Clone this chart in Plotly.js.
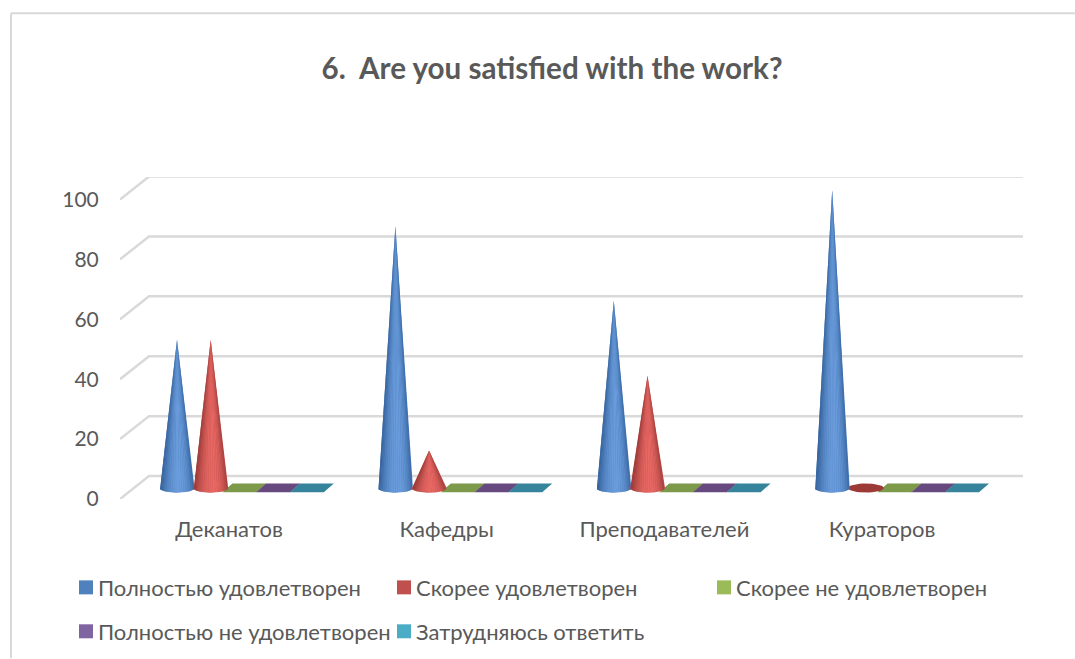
<!DOCTYPE html>
<html><head><meta charset="utf-8">
<script src="https://cdn.plot.ly/plotly-3.0.1.min.js"></script>
<style>html,body{margin:0;padding:0;background:#fff}</style></head>
<body><div id="chart" style="width:1075px;height:659px"></div>
<script>
const categories = ["Деканатов","Кафедры","Преподавателей","Кураторов"];
const seriesNames = ["Полностью удовлетворен","Скорее удовлетворен","Скорее не удовлетворен","Полностью не удовлетворен","Затрудняюсь ответить"];
const fullySatisfied = [50,88,63,100];
const ratherSatisfied = [50,13,38,0.3];
const ratherNot = [0,0,0,0];
const fullyNot = [0,0,0,0];
const hardToSay = [0,0,0,0];
const tickValues = [0,20,40,60,80,100];
const legendColors = ["#4F81BD","#C0504D","#9BBB59","#8064A2","#4BACC6"];
const flatColors = ["#3d6ea8","#9c3a38","#7D9A4A","#664A7F","#36849B"];
const coneMid = ["#4a7cba","#bf4f4c"];
const coneLight = [[106,156,220],[232,104,100]];
const coneDark = [[44,88,144],[140,50,48]];
const legendPos = [[86,588],[404,588],[724,588],[86,632],[404,632]];

const allSeries = [fullySatisfied,ratherSatisfied,ratherNot,fullyNot,hardToSay];
const L=120,R=1023,T=177,B=499.5;
const pxX = 217.7, pxY = 3, markPitch = 218.4;
const xRange=[(L-229)/pxX,(R-229)/pxX];
const yRange=[0,(B-T)/pxY];
const ux=p=>p/pxX, uy=p=>p/pxY;
const slot=(c,s)=>c*markPitch/pxX+ux(-52+33.7*s);
const baseY=uy(B-490), r=ux(17.5), capY=uy(B-488.5), capR=uy(4.5);
const traces=[];

// gridlines in perspective
const gx=[],gy=[];
tickValues.forEach(v=>{gx.push(xRange[0],xRange[0]+ux(29),xRange[1],null);gy.push(v,v+uy(23),v+uy(23),null);});
traces.push({x:gx,y:gy,mode:'lines',line:{color:'#d9d9d9',width:2.5},hoverinfo:'skip',showlegend:false});

// zero values: flat parallelograms
allSeries.forEach((vals,s)=>{
  const xs=[],ys=[];
  vals.forEach((v,c)=>{ if(v!==0) return;
    const cx=slot(c,s), w=ux(17), sh=ux(5), top=uy(B-484), bot=uy(B-492.7);
    xs.push(cx-w-sh,cx-w+sh,cx+w+sh,cx+w-sh,cx-w-sh,null);
    ys.push(bot,top,top,bot,bot,null);
  });
  if(xs.length) traces.push({x:xs,y:ys,mode:'lines',fill:'toself',fillcolor:flatColors[s],line:{width:0,color:flatColors[s]},hoverinfo:'skip',showlegend:false,name:seriesNames[s]});
});

// small values: base disc only
[0,1].forEach(s=>{
  const xs=[],ys=[];
  allSeries[s].forEach((v,c)=>{ if(v===0||v>=2) return;
    for(let a=0;a<=36;a++){const t=a/36*2*Math.PI;xs.push(slot(c,s)+ux(18)*Math.cos(t));ys.push(capY+capR*Math.sin(t));}
    xs.push(null);ys.push(null);
  });
  if(xs.length) traces.push({x:xs,y:ys,mode:'lines',fill:'toself',fillcolor:flatColors[s],line:{width:0,color:flatColors[s]},hoverinfo:'skip',showlegend:false,name:seriesNames[s]});
});

// cones: solid underlay, then shaded strips, one trace per shade
const N=24;
[0,1].forEach(s=>{
  const ux0=[],uy0=[];
  allSeries[s].forEach((v,c)=>{ if(v<2) return;
    const cx=slot(c,s), tip=baseY+v;
    ux0.push(cx);uy0.push(tip);
    for(let k=0;k<=N;k++){const t=Math.PI-(k/N)*Math.PI;ux0.push(cx+r*Math.cos(t));uy0.push(capY-capR*Math.sin(t));}
    ux0.push(cx,null);uy0.push(tip,null);
  });
  traces.push({x:ux0,y:uy0,mode:'lines',fill:'toself',fillcolor:coneMid[s],line:{width:0,color:coneMid[s]},hoverinfo:'skip',showlegend:false,name:seriesNames[s]});
  for(let k=0;k<N;k++){
    const t0=Math.PI-(k/N)*Math.PI, t1=Math.PI-((k+1)/N)*Math.PI;
    const mid=(t0+t1)/2, shade=Math.pow(Math.max(0,Math.sin(mid+0.12)),1.6);
    const col=[0,1,2].map(i=>Math.round(coneDark[s][i]+(coneLight[s][i]-coneDark[s][i])*shade));
    const xs=[],ys=[];
    allSeries[s].forEach((v,c)=>{ if(v<2) return;
      const cx=slot(c,s), tip=baseY+v;
      xs.push(cx,cx+r*Math.cos(t0),cx+r*Math.cos(t1),cx,null);
      ys.push(tip,capY-capR*Math.sin(t0),capY-capR*Math.sin(t1),tip,null);
    });
    const c=`rgb(${col})`;
    traces.push({x:xs,y:ys,mode:'lines',fill:'toself',fillcolor:c,line:{width:0,color:c},hoverinfo:'skip',showlegend:false,name:seriesNames[s]});
  }
});

const font='Lato, "Noto Sans", sans-serif';
const W=1075,H=659;
const px=p=>(p-L)/(R-L), py=p=>(B-p)/(B-T);
const shapes=[
 {type:'line',xref:'paper',yref:'paper',x0:px(11),x1:px(W),y0:py(13),y1:py(13),line:{color:'#d9d9d9',width:2}},
 {type:'line',xref:'paper',yref:'paper',x0:px(11),x1:px(11),y0:py(13),y1:py(H),line:{color:'#d9d9d9',width:2}}
];
const annotations=[];
seriesNames.forEach((n,s)=>{
  const [mx,my]=legendPos[s];
  shapes.push({type:'rect',xref:'paper',yref:'paper',x0:px(mx-7),x1:px(mx+7),y0:py(my-7),y1:py(my+7),fillcolor:legendColors[s],line:{width:0}});
  annotations.push({xref:'paper',yref:'paper',x:px(mx+10.5),y:py(my),xanchor:'left',yanchor:'middle',showarrow:false,text:n,font:{size:22,color:'#595959',family:font},borderpad:0});
});
const layout={
  width:W,height:H,paper_bgcolor:'#fff',plot_bgcolor:'rgba(0,0,0,0)',
  font:{family:font,color:'#595959',size:22},
  margin:{l:L,r:W-R,t:T,b:H-B,pad:0},
  title:{text:"6.\u00A0 Are you satisfied with the work?",x:552/W,xanchor:'center',y:1-69/H,yanchor:'middle',font:{size:29.6,color:'#595959',family:font,weight:700}},
  xaxis:{range:xRange,tickmode:'array',tickvals:categories.map((_,i)=>i),ticktext:categories,showgrid:false,zeroline:false,showline:false,ticks:'outside',ticklen:11,tickcolor:'rgba(0,0,0,0)',tickfont:{size:22,color:'#595959'}},
  yaxis:{range:yRange,tickmode:'array',tickvals:tickValues,ticktext:tickValues.map(String),showgrid:false,zeroline:false,showline:false,ticks:'outside',ticklen:16,tickcolor:'rgba(0,0,0,0)',tickfont:{size:21,color:'#595959'}},
  shapes,annotations,showlegend:false
};
Plotly.newPlot('chart',traces,layout,{displayModeBar:false,responsive:false});
</script></body></html>
